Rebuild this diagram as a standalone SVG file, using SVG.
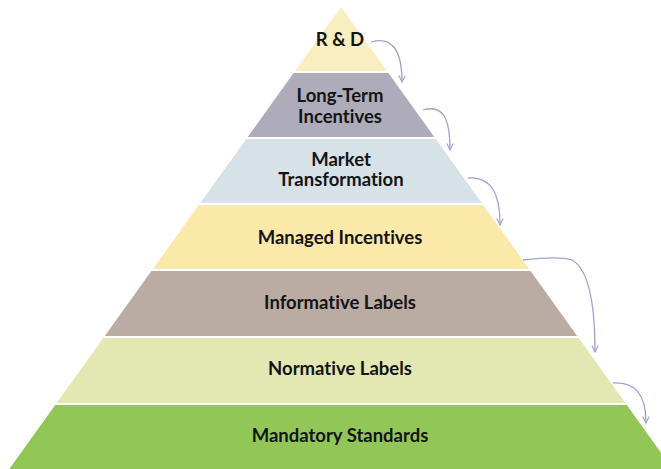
<svg xmlns="http://www.w3.org/2000/svg" width="661" height="469" viewBox="0 0 661 469">
<defs>
<style>
.t{font-family:Lato,"Liberation Sans",sans-serif;font-weight:bold;font-size:18.5px;fill:#141414;text-anchor:middle;font-variant-ligatures:none;font-feature-settings:"liga" 0}
.c{fill:none;stroke:#9ba4cc;stroke-width:1.3}
</style>
<marker id="ah" viewBox="0 0 10 10" refX="9" refY="5" markerWidth="8" markerHeight="8" orient="auto" markerUnits="userSpaceOnUse">
<path d="M1,1 L9,5 L1,9" fill="none" stroke="#9ba4cc" stroke-width="1.4"/>
</marker>
</defs>
<rect width="661" height="469" fill="#ffffff"/>
<g id="rd">
<polygon points="341,7 387,71 295,71" fill="#f9eebf"/>
<text class="t" x="340" y="46">R &amp; D</text>
</g>
<g id="longterm">
<polygon points="293.6,73 388.4,73 434.3,137 247.7,137" fill="#aeacba"/>
<text class="t" x="340" y="102">Long-Term</text>
<text class="t" x="340" y="123">Incentives</text>
</g>
<g id="market">
<polygon points="246.2,139 435.8,139 481.7,203 200.3,203" fill="#d6e1e8"/>
<text class="t" x="341" y="166">Market</text>
<text class="t" x="341" y="186">Transformation</text>
</g>
<g id="managed">
<polygon points="198.8,205 483.2,205 529.1,269 152.9,269" fill="#fbe9aa"/>
<text class="t" x="340" y="244">Managed Incentives</text>
</g>
<g id="informative">
<polygon points="151.4,271 530.6,271 577.2,336 104.8,336" fill="#baaba3"/>
<text class="t" x="340" y="309">Informative Labels</text>
</g>
<g id="normative">
<polygon points="103.3,338 578.7,338 625.3,403 56.7,403" fill="#e3e8b2"/>
<text class="t" x="340" y="375">Normative Labels</text>
</g>
<g id="mandatory">
<polygon points="55.2,405 626.8,405 672.7,469 9.3,469" fill="#92c757"/>
<text class="t" x="340" y="442">Mandatory Standards</text>
</g>
<g id="connectors">
<path class="c" d="M371,42 C392,36 402,50 402,82" marker-end="url(#ah)"/>
<path class="c" d="M423,110 C444,104 450,120 450,150" marker-end="url(#ah)"/>
<path class="c" d="M468,178 C492,176 500,195 500,225" marker-end="url(#ah)"/>
<path class="c" d="M523,260 C540,258 560,256 572,260 C590,270 595,310 595,352" marker-end="url(#ah)"/>
<path class="c" d="M613,383 C636,382 646,395 646,423" marker-end="url(#ah)"/>
</g>
</svg>
